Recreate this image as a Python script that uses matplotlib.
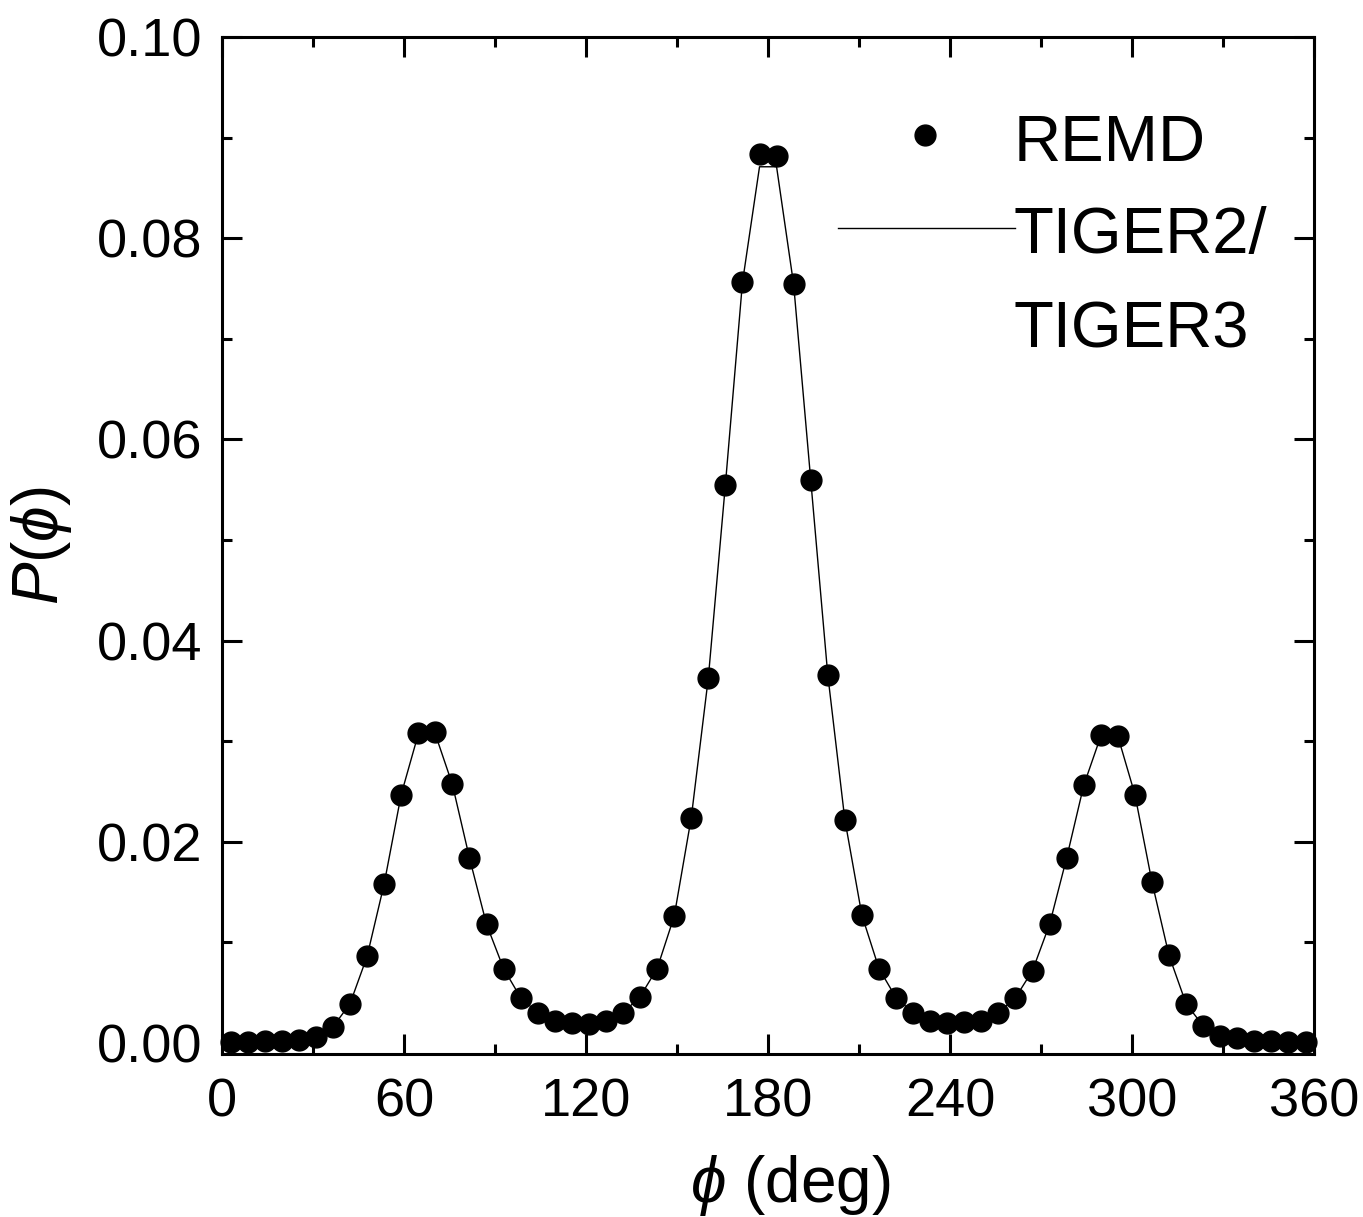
import numpy as np
import matplotlib
matplotlib.use("Agg")
import matplotlib.pyplot as plt
import matplotlib.ticker as ticker

plt.rcParams['font.family'] = ['Liberation Sans', 'DejaVu Sans']
plt.rcParams['mathtext.fontset'] = 'custom'
plt.rcParams['mathtext.rm'] = 'Liberation Sans'
plt.rcParams['mathtext.it'] = 'Liberation Sans:italic'

# dihedral angle bin centres (deg), 64 bins over 0-360
phi = [2.8125, 8.4375, 14.0625, 19.6875, 25.3125, 30.9375, 36.5625, 42.1875,
       47.8125, 53.4375, 59.0625, 64.6875, 70.3125, 75.9375, 81.5625, 87.1875,
       92.8125, 98.4375, 104.0625, 109.6875, 115.3125, 120.9375, 126.5625, 132.1875,
       137.8125, 143.4375, 149.0625, 154.6875, 160.3125, 165.9375, 171.5625, 177.1875,
       182.8125, 188.4375, 194.0625, 199.6875, 205.3125, 210.9375, 216.5625, 222.1875,
       227.8125, 233.4375, 239.0625, 244.6875, 250.3125, 255.9375, 261.5625, 267.1875,
       272.8125, 278.4375, 284.0625, 289.6875, 295.3125, 300.9375, 306.5625, 312.1875,
       317.8125, 323.4375, 329.0625, 334.6875, 340.3125, 345.9375, 351.5625, 357.1875]

P_remd = [0.0001, 0.0001, 0.0002, 0.0002, 0.0003, 0.0006, 0.0016, 0.0039,
          0.0086, 0.0158, 0.0247, 0.0308, 0.0309, 0.0257, 0.0184, 0.0118,
          0.0074, 0.0045, 0.0030, 0.0022, 0.0020, 0.0019, 0.0022, 0.0030,
          0.0046, 0.0074, 0.0126, 0.0224, 0.0363, 0.0555, 0.0756, 0.0884,
          0.0882, 0.0754, 0.0560, 0.0366, 0.0222, 0.0127, 0.0074, 0.0045,
          0.0030, 0.0022, 0.0020, 0.0021, 0.0022, 0.0030, 0.0045, 0.0072,
          0.0118, 0.0184, 0.0256, 0.0306, 0.0305, 0.0247, 0.0160, 0.0087,
          0.0039, 0.0017, 0.0007, 0.0005, 0.0002, 0.0002, 0.0001, 0.0001]

P_tiger = [0.0001, 0.0001, 0.0002, 0.0002, 0.0003, 0.0006, 0.0016, 0.0039,
           0.0086, 0.0158, 0.0247, 0.0307, 0.0307, 0.0257, 0.0184, 0.0118,
           0.0074, 0.0045, 0.0030, 0.0022, 0.0020, 0.0019, 0.0022, 0.0030,
           0.0046, 0.0074, 0.0126, 0.0224, 0.0363, 0.0555, 0.0756, 0.0871,
           0.0871, 0.0754, 0.0560, 0.0366, 0.0222, 0.0127, 0.0074, 0.0045,
           0.0030, 0.0022, 0.0020, 0.0021, 0.0022, 0.0030, 0.0045, 0.0072,
           0.0118, 0.0184, 0.0256, 0.0305, 0.0305, 0.0247, 0.0160, 0.0087,
           0.0039, 0.0017, 0.0007, 0.0005, 0.0002, 0.0002, 0.0001, 0.0001]

fig = plt.figure(figsize=(13.63, 12.17), dpi=100)
ax = fig.add_axes([0.1629, 0.1339, 0.8012, 0.8357])

ax.plot(phi, P_tiger, color='black', lw=1.0, zorder=2)
ax.plot(phi, P_remd, 'o', color='black', ms=15, zorder=3, clip_on=False)

ax.set_xlim(0, 360)
ax.set_ylim(-0.0011, 0.1)
ax.xaxis.set_major_locator(ticker.MultipleLocator(60))
ax.xaxis.set_minor_locator(ticker.MultipleLocator(30))
ax.yaxis.set_major_locator(ticker.MultipleLocator(0.02))
ax.yaxis.set_minor_locator(ticker.MultipleLocator(0.01))
ax.yaxis.set_major_formatter(ticker.FormatStrFormatter('%.2f'))

for s in ax.spines.values():
    s.set_linewidth(2.2)
ax.tick_params(which='both', direction='in', top=True, right=True, width=2.2)
ax.tick_params(which='major', length=14.5, labelsize=39)
ax.tick_params(which='minor', length=7)
ax.tick_params(axis='x', which='major', pad=17)
ax.tick_params(axis='y', which='major', pad=14)

ax.set_xlabel(r'$\phi$ (deg)', fontsize=46)
ax.set_ylabel(r'$P$($\phi$)', fontsize=46)
ax.xaxis.set_label_coords(0.52, -0.097)
ax.yaxis.set_label_coords(-0.136, 0.5)

# legend drawn by hand: line sits level with the first line of its label
tr = ax.transAxes
ax.plot([0.644], [0.904], 'o', color='black', ms=15, transform=tr)
ax.text(0.725, 0.878, 'REMD', fontsize=47, transform=tr, va='baseline', ha='left')
ax.plot([0.564, 0.726], [0.812, 0.812], color='black', lw=1.0, transform=tr)
ax.text(0.725, 0.788, 'TIGER2/', fontsize=47, transform=tr, va='baseline', ha='left')
ax.text(0.725, 0.695, 'TIGER3', fontsize=47, transform=tr, va='baseline', ha='left')

plt.savefig('out.png', dpi=100)
